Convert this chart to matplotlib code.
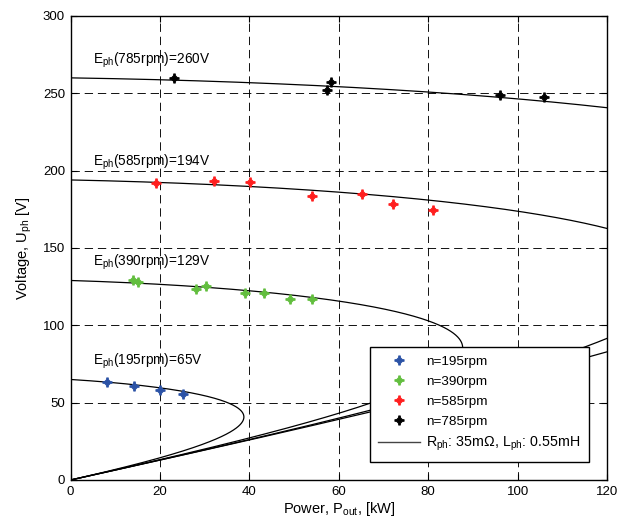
import numpy as np
import matplotlib
matplotlib.use("Agg")
import matplotlib.pyplot as plt
from matplotlib.path import Path
from matplotlib.lines import Line2D

plt.rcParams["font.family"] = ["Liberation Sans", "DejaVu Sans"]
plt.rcParams["mathtext.fontset"] = "custom"
plt.rcParams["mathtext.rm"] = "Liberation Sans"
plt.rcParams["mathtext.it"] = "Liberation Sans:italic"
plt.rcParams["mathtext.bf"] = "Liberation Sans:bold"
plt.rcParams["mathtext.default"] = "regular"
plt.rcParams["lines.scale_dashes"] = False

# Machine parameters (per phase)
R_PH = 0.035          # ohm
L_PH = 0.55e-3        # H
POLE_PAIRS = 11

# Operating speeds and no-load phase EMF
speeds_rpm = [195, 390, 585, 785]
emf_v = [65, 129, 194, 260]
colors = ["#2B52A6", "#62BE3E", "#FF1E1E", "#000000"]

# Measured output power [kW] and phase voltage [V]
p_195 = [8.2, 14.1, 20.1, 25.1]
u_195 = [63.6, 60.9, 58.0, 55.3]

p_390 = [14.0, 15.2, 28.1, 30.2, 39.0, 43.2, 49.0, 54.0]
u_390 = [129.4, 128.2, 123.7, 125.3, 121.0, 121.0, 116.9, 116.9]

p_585 = [19.1, 32.1, 40.1, 54.0, 65.2, 72.1, 81.0]
u_585 = [192.3, 193.1, 192.5, 183.9, 184.6, 178.2, 174.3]

p_785 = [23.1, 57.3, 58.3, 96.0, 106.0]
u_785 = [259.9, 252.3, 257.3, 249.2, 247.9]

measured_p = [p_195, p_390, p_585, p_785]
measured_u = [u_195, u_390, u_585, u_785]

# Marker: diamond body with short plus-shaped arms
w, r = 0.17, 0.64
verts = [(w, 1), (-w, 1), (-w, r), (-r, w), (-1, w), (-1, -w), (-r, -w),
         (-w, -r), (-w, -1), (w, -1), (w, -r), (r, -w), (1, -w), (1, w),
         (r, w), (w, r), (w, 1)]
codes = [Path.MOVETO] + [Path.LINETO] * (len(verts) - 2) + [Path.CLOSEPOLY]
star_marker = Path(verts, codes)
MS = 6.5

fig = plt.figure(figsize=(6.18, 5.21), dpi=100)
ax = fig.add_axes([70.5 / 618, 41 / 521, 536.5 / 618, 464 / 521])


def load_curve(emf, rpm):
    """Terminal voltage vs output power for a resistive load."""
    omega = 2 * np.pi * POLE_PAIRS * rpm / 60.0
    x = omega * L_PH
    i_sc = emf / np.hypot(R_PH, x)
    i = np.linspace(0, i_sc, 3000)
    u = np.sqrt(np.clip(emf**2 - (x * i) ** 2, 0, None)) - R_PH * i
    p = 3 * u * i / 1000.0
    return p, u


for emf, rpm in zip(emf_v, speeds_rpm):
    p, u = load_curve(emf, rpm)
    ax.plot(p, u, color="black", lw=0.9, zorder=3)
    ax.text(5, emf + 9.5, r"E$_{ph}$(%drpm)=%dV" % (rpm, emf),
            fontsize=9.8, va="baseline", ha="left", zorder=4)

for pp, uu, c in zip(measured_p, measured_u, colors):
    ax.plot(pp, uu, linestyle="none", marker=star_marker, markersize=MS,
            color=c, markeredgecolor=c, markeredgewidth=0.8, zorder=5)

ax.set_xlim(0, 120)
ax.set_ylim(0, 300)
ax.set_xticks(np.arange(0, 121, 20))
ax.set_yticks(np.arange(0, 301, 50))
ax.grid(True, color="black", linestyle=(0, (6, 3.5)), linewidth=0.65)
ax.set_axisbelow(True)
ax.tick_params(direction="in", length=4, width=0.8, labelsize=9.5,
               top=True, right=True, pad=4)
for s in ax.spines.values():
    s.set_linewidth(1.0)
    s.set_color("black")

ax.set_xlabel(r"Power, P$_{out}$, [kW]", fontsize=10.5, labelpad=2)
ax.set_ylabel(r"Voltage, U$_{ph}$ [V]", fontsize=10.5, labelpad=6)

handles = [Line2D([], [], linestyle="none", marker=star_marker, markersize=MS,
                  color=c, markeredgecolor=c, markeredgewidth=0.8)
           for c in colors]
handles.append(Line2D([], [], color="#444444", lw=1.0))
labels = ["n=%drpm" % n for n in speeds_rpm]
labels.append(r"R$_{ph}$: 35m$\Omega$, L$_{ph}$: 0.55mH")
leg = ax.legend(handles, labels, loc="upper left",
                bbox_to_anchor=((370 - 70.5) / 536.5, (480 - 347.3) / 464),
                borderaxespad=0, fontsize=9.7, handlelength=3.1,
                handletextpad=0.45, labelspacing=0.55, borderpad=0.62,
                fancybox=False, framealpha=1, edgecolor="black")
leg.get_frame().set_linewidth(1.0)
leg.get_texts()[-1].set_fontsize(10.3)
leg.set_zorder(10)

fig.savefig("out.png", dpi=100)
